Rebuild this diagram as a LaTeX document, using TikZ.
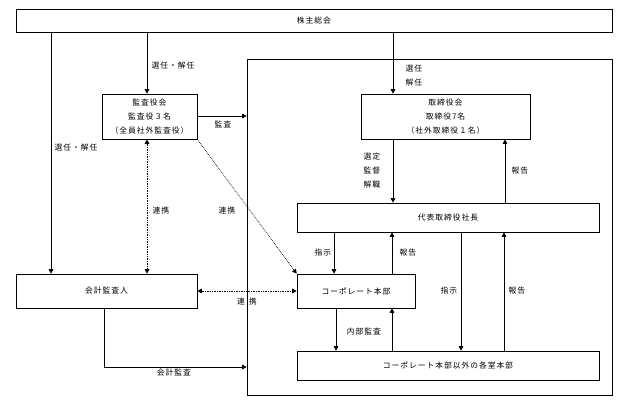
\documentclass[tikz,border=0pt]{standalone}
\usepackage{fontspec}
\setmainfont[LetterSpace=12]{Noto Sans CJK JP}
\usetikzlibrary{arrows.meta}
\begin{document}
\begin{tikzpicture}[x=1pt,y=-1pt,
  font=\fontsize{7.8}{14}\selectfont,
  line width=0.6pt,
  box/.style={draw, inner sep=0pt, align=center},
  arr/.style={-{Triangle[length=4.5pt,width=4.5pt]}},
  darr/.style={{Triangle[length=4.5pt,width=4.5pt]}-{Triangle[length=4.5pt,width=4.5pt]}},
  dot/.style={densely dotted, line width=0.7pt},
  lbl/.style={inner sep=0pt, align=center}]
\useasboundingbox (0,0) rectangle (622,408);
% boxes
\node[box, minimum width=596pt, minimum height=23pt] (agm) at (314,20.5) {株主総会};
\node[box, minimum width=365pt, minimum height=336pt] (frame) at (429.5,227) {};
\node[box, minimum width=95pt, minimum height=45pt] (kansa) at (149.5,116.5) {監査役会\\監査役３名\\（全員社外監査役）};
\node[box, minimum width=169pt, minimum height=45pt] (board) at (445.5,116.5) {取締役会\\取締役7名\\（社外取締役１名）};
\node[box, minimum width=302pt, minimum height=29pt] (ceo) at (448,217.5) {代表取締役社長};
\node[box, minimum width=118pt, minimum height=34pt] (corp) at (356,291) {コーポレート本部};
\node[box, minimum width=181pt, minimum height=34pt] (kaikei) at (106.5,291) {会計監査人};
\node[box, minimum width=302pt, minimum height=29pt] (div) at (448,365.5) {コーポレート本部以外の各室本部};
% helper x / y positions
\coordinate (xa) at (51,0);
\coordinate (xb) at (147,0);
\coordinate (xc) at (393,0);
\coordinate (xd) at (505,0);
\coordinate (xe) at (334,0);
\coordinate (xf) at (392,0);
\coordinate (xg) at (461,0);
\coordinate (xh) at (504,0);
\coordinate (xi) at (336,0);
\coordinate (xj) at (104,0);
\coordinate (ya) at (0,116);
\coordinate (yb) at (0,367);
% connectors
\draw[arr] (agm.south -| xa) -- (kaikei.north -| xa);
\draw[arr] (agm.south -| xb) -- (kansa.north -| xb);
\draw[arr] (agm.south -| xc) -- (board.north -| xc);
\draw[arr] (kansa.east |- ya) -- (frame.west |- ya);
\draw[arr] (board.south -| xc) -- (ceo.north -| xc);
\draw[arr] (ceo.north -| xd) -- (board.south -| xd);
\draw[arr] (ceo.south -| xe) -- (corp.north -| xe);
\draw[arr] (corp.north -| xf) -- (ceo.south -| xf);
\draw[arr] (ceo.south -| xg) -- (div.north -| xg);
\draw[arr] (div.north -| xh) -- (ceo.south -| xh);
\draw[arr] (corp.south -| xi) -- (div.north -| xi);
\draw[arr] (div.north -| xf) -- (corp.south -| xf);
\draw[arr] (kaikei.south -| xj) |- (frame.west |- yb);
\draw[darr, dot] (kansa.south -| xb) -- (kaikei.north -| xb);
\draw[arr, dot] (kansa.south east) -- (corp.north west);
\draw[darr, dot] (kaikei.east) -- (corp.west);
% labels
\node[lbl] (l1) at (76,148) {選任・解任};
\node[lbl] (l2) at (173,66) {選任・解任};
\node[lbl] (l3) at (414,69) {選任};
\node[lbl] (l4) at (414,83) {解任};
\node[lbl] (l5) at (223,124) {監査};
\node[lbl] (l6) at (372,157) {選定};
\node[lbl] (l7) at (372,171) {監督};
\node[lbl] (l8) at (372,185) {解職};
\node[lbl] (l9) at (520,171) {報告};
\node[lbl] (l10) at (161,211) {連携};
\node[lbl] (l11) at (227,211) {連携};
\node[lbl] (l12) at (323,253) {指示};
\node[lbl] (l13) at (408,253) {報告};
\node[lbl] (l14) at (247,302) {連\hspace{4pt}携};
\node[lbl] (l15) at (449,291) {指示};
\node[lbl] (l16) at (517,291) {報告};
\node[lbl] (l17) at (364,332) {内部監査};
\node[lbl] (l18) at (174,373) {会計監査};
\end{tikzpicture}
\end{document}
